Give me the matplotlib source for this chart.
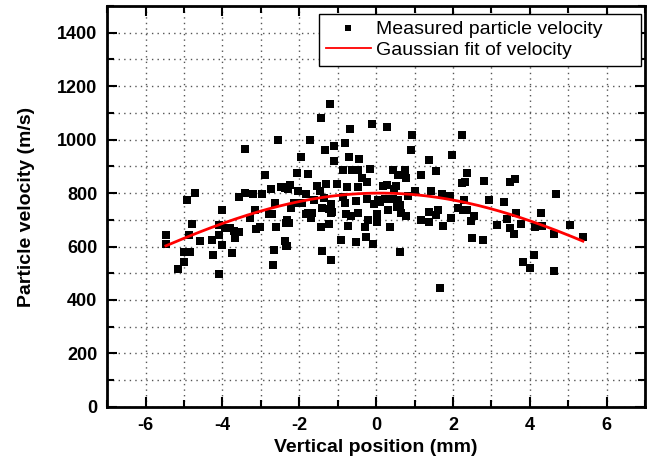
import matplotlib
matplotlib.use('Agg')
import matplotlib.pyplot as plt
import numpy as np
from matplotlib.ticker import MultipleLocator

plt.rcParams['font.family'] = ['Liberation Sans', 'DejaVu Sans']
plt.rcParams['font.weight'] = 'bold'
plt.rcParams['axes.unicode_minus'] = False

# measured points (mm, m/s)
x_pos = [
    -5.47, -5.47, -5.15, -4.99, -5.00, -4.84, -4.92, -4.72, -4.79, -4.87,
    -4.57, -4.28, -4.24, -4.10, -4.01, -4.10, -4.01, -4.08, -3.93, -3.80,
    -3.71, -3.67, -3.57, -3.74, -3.58, -3.42, -3.20, -2.97, -3.40, -3.27,
    -3.14, -3.12, -3.02, -2.90, -2.74, -2.64, -2.80, -2.70, -2.60, -2.66,
    -2.68, -2.56, -2.48, -2.37, -2.34, -2.36, -2.34,
    -1.21, -1.44, -0.68, -0.10, 0.29, 0.93, 0.91, 2.24, -1.73, -1.33,
    -1.09, -0.82, -1.09, -1.95, -0.70, -0.44, -0.87, -0.64, -0.47, -0.17,
    -0.36, -0.25, 0.45, 0.56, 0.74, 0.78, 1.16, 1.37, 1.55, 1.98,
    -2.07, -1.76, -2.41, -2.29, -2.02, -1.83, -1.55, -1.30, -1.47, -1.01,
    -0.75, -0.46, 0.17, 0.46, 1.00, 1.42, 1.71, 1.92, 2.23, -2.22,
    -1.94, -1.61, -1.35, -1.18, -1.66, -1.22, -0.85, -0.53, -0.23, -0.06,
    0.11, 0.24, 0.44, 0.54, 0.82, 0.65, 0.78, -1.82, -1.70, -1.18,
    -1.44, -1.22, -0.79, -0.66, -0.48, -0.74, -0.29, 0.03, 0.03, 0.35,
    1.16, 1.38, 1.38, 1.73, 1.94, 2.14, -0.91, -0.52, -0.27, -0.09,
    -1.42, -1.18, 0.63, 1.65, -2.38, -2.33,
    -2.23, -2.14, -1.76, -1.41, -1.16, -0.81, 0.05, -0.21, -2.32, -2.27,
    0.27, 0.52, 0.57, 0.61, 0.31, 1.60, 1.56, 2.29, 2.25,
    2.37, 2.30, 2.80, 3.49, 3.62, 4.67, 2.93, 3.32, 2.36, 2.54,
    2.48, 3.15, 3.40, 3.64, 3.49, 3.60, 3.77, 4.13, 4.31, 4.29,
    4.62, 5.04, 5.38, 2.49, 2.77, 4.10, 3.82, 4.01, 4.63,
]
velocity = [
    642, 610, 515, 542, 579, 581, 774, 800, 683, 642,
    622, 625, 567, 499, 607, 680, 738, 642, 670, 670,
    657, 632, 654, 574, 786, 800, 798, 796, 965, 707,
    737, 664, 675, 867, 814, 764, 720, 723, 672, 588,
    530, 997, 821, 818, 688, 620, 601,
    1132, 1081, 1040, 1057, 1047, 1017, 963, 1018, 997, 963,
    976, 986, 921, 934, 934, 926, 886, 886, 886, 890,
    856, 840, 886, 867, 886, 856, 867, 924, 883, 941,
    877, 872, 821, 814, 808, 798, 827, 833, 808, 833,
    821, 821, 827, 814, 808, 808, 796, 789, 836, 745,
    764, 774, 783, 758, 726, 739, 786, 770, 777, 758,
    768, 777, 777, 748, 789, 726, 714, 720, 708, 726,
    674, 683, 720, 714, 726, 676, 674, 693, 720, 674,
    698, 691, 729, 676, 708, 745, 626, 617, 636, 610,
    585, 548, 580, 446, 620, 601,
    831, 763, 725, 744, 731, 763, 775, 700, 700, 688,
    831, 825, 775, 756, 737, 737, 719, 775, 737,
    877, 840, 846, 843, 851, 798, 773, 767, 735, 714,
    695, 680, 704, 725, 670, 647, 685, 672, 676, 726,
    647, 680, 636, 631, 625, 567, 542, 519, 510,
]

# gaussian fit parameters
fit_amp = 800.0
fit_center = 0.1
fit_sigma = 7.4
fit_range = [-5.47, 5.38]

fig = plt.figure(figsize=(6.57, 4.65), dpi=100)
ax = fig.add_axes([0.163, 0.125, 0.819, 0.862])

ax.plot(x_pos, velocity, 's', color='black', ms=5.3, mew=0,
        label='Measured particle velocity', zorder=3)
xf = np.linspace(fit_range[0], fit_range[1], 200)
yf = fit_amp * np.exp(-(xf - fit_center) ** 2 / (2 * fit_sigma ** 2))
ax.plot(xf, yf, '-', color='red', lw=2, label='Gaussian fit of velocity', zorder=4)

ax.set_xlim(-7, 7)
ax.set_ylim(0, 1500)
ax.xaxis.set_major_locator(MultipleLocator(2))
ax.xaxis.set_minor_locator(MultipleLocator(1))
ax.yaxis.set_major_locator(MultipleLocator(200))
ax.yaxis.set_minor_locator(MultipleLocator(100))
ax.tick_params(which='both', direction='in', top=True, right=True, width=1.5,
               labelsize=13)
ax.tick_params(which='major', length=7, pad=7)
ax.tick_params(which='minor', length=5)
for s in ax.spines.values():
    s.set_linewidth(2)

ax.grid(True, which='both', linestyle=(0, (1, 3)), color='#555555', lw=1)

ax.set_xlabel('Vertical position (mm)', fontsize=14, fontweight='bold', labelpad=4)
ax.set_ylabel('Particle velocity (m/s)', fontsize=14, fontweight='bold', labelpad=16)

# legend box stretched to the width seen in the reference
leg = ax.legend(loc='upper left', bbox_to_anchor=(0.394, 0.5, 0.5986, 0.48),
                mode='expand', borderaxespad=0,
                prop={'size': 14, 'weight': 'normal'}, fancybox=False,
                framealpha=1, edgecolor='black',
                handlelength=2.3, handletextpad=0.28, borderpad=0.35,
                labelspacing=0.15, markerscale=0.75)
leg.get_frame().set_linewidth(1)
leg.get_lines()[1].set_linewidth(1.3)

fig.savefig('out.png', dpi=100)
